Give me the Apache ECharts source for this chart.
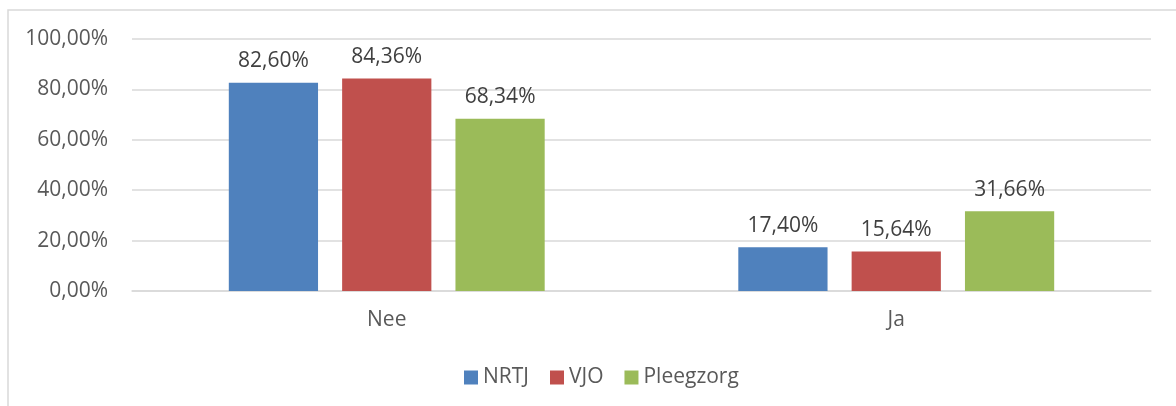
<!DOCTYPE html>
<html>
<head>
<meta charset="utf-8">
<script src="https://cdn.jsdelivr.net/npm/echarts@6/dist/echarts.min.js"></script>
<style>
  html, body { margin: 0; padding: 0; background: #ffffff; }
  #chart { width: 1176px; height: 406px; }
</style>
</head>
<body>
<div id="chart"></div>
<script>
  const categories = ['Nee', 'Ja'];
  const seriesNames = ['NRTJ', 'VJO', 'Pleegzorg'];
  const nrtj = [82.60, 17.40];
  const vjo = [84.36, 15.64];
  const pleegzorg = [68.34, 31.66];
  const yTicks = [0, 20, 40, 60, 80, 100];

  const colors = ['#4F81BD', '#C0504D', '#9BBB59'];
  const fontFamily = '"Open Sans", "Liberation Sans", sans-serif';

  const fmt = (v) => v.toFixed(2).replace('.', ',') + '%';

  const makeSeries = (name, data, color) => ({
    name: name,
    type: 'bar',
    data: data,
    barGap: '27%',
    barCategoryGap: '38%',
    itemStyle: { color: color },
    label: {
      show: true,
      position: 'top',
      distance: 11,
      color: '#404040',
      fontFamily: fontFamily,
      fontSize: 21,
      formatter: (p) => fmt(p.value)
    }
  });

  const chart = echarts.init(document.getElementById('chart'));
  chart.setOption({
    animation: false,
    textStyle: { fontFamily: fontFamily },
    graphic: [{
      type: 'rect',
      shape: { x: 8, y: 10, width: 1200, height: 500 },
      style: { fill: 'none', stroke: '#d9d9d9', lineWidth: 1.5 },
      silent: true
    }],
    grid: { left: 132, right: 25, top: 39, bottom: 115 },
    legend: {
      data: seriesNames,
      left: 459,
      top: 362,
      itemWidth: 14,
      itemHeight: 14,
      itemGap: 21,
      icon: 'rect',
      textStyle: { color: '#595959', fontSize: 21, fontFamily: fontFamily }
    },
    xAxis: {
      type: 'category',
      data: categories,
      axisTick: { show: false },
      axisLine: { lineStyle: { color: '#d9d9d9', width: 1.5 } },
      axisLabel: { color: '#595959', fontSize: 21, margin: 19, fontFamily: fontFamily }
    },
    yAxis: {
      type: 'value',
      min: yTicks[0],
      max: yTicks[yTicks.length - 1],
      interval: yTicks[1] - yTicks[0],
      axisLine: { show: false },
      axisTick: { show: false },
      splitLine: { lineStyle: { color: '#d9d9d9', width: 1.5 } },
      axisLabel: {
        color: '#595959',
        fontSize: 21,
        margin: 24,
        fontFamily: fontFamily,
        formatter: (v) => fmt(v)
      }
    },
    series: [
      makeSeries(seriesNames[0], nrtj, colors[0]),
      makeSeries(seriesNames[1], vjo, colors[1]),
      makeSeries(seriesNames[2], pleegzorg, colors[2])
    ]
  });
</script>
</body>
</html>
